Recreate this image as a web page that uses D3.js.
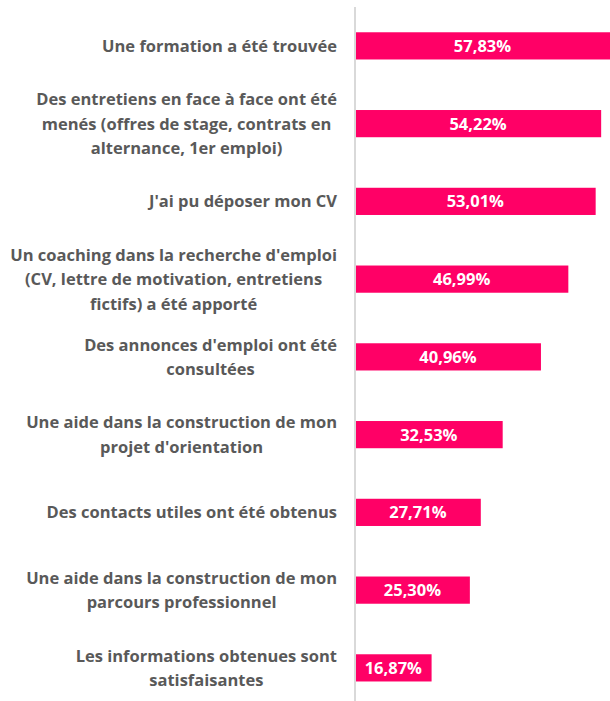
<!DOCTYPE html>
<html>
<head>
<meta charset="utf-8">
<script src="https://cdn.jsdelivr.net/npm/d3@7"></script>
<style>
  body { margin: 0; background: #fff; }
  svg text { font-family: "Open Sans", sans-serif; font-weight: bold; }
</style>
</head>
<body>
<script>
const categories = [
    ["Une formation a été trouvée"],
    ["Des entretiens en face à face ont été", "menés (offres de stage, contrats en", "alternance, 1er emploi)"],
    ["J'ai pu déposer mon CV"],
    ["Un coaching dans la recherche d'emploi", "(CV, lettre de motivation, entretiens", "fictifs) a été apporté"],
    ["Des annonces d'emploi ont été", "consultées"],
    ["Une aide dans la construction de mon", "projet d'orientation"],
    ["Des contacts utiles ont été obtenus"],
    ["Une aide dans la construction de mon", "parcours professionnel"],
    ["Les informations obtenues sont", "satisfaisantes"]
];
const values = [57.83, 54.22, 53.01, 46.99, 40.96, 32.53, 27.71, 25.30, 16.87];

const width = 610, height = 701;
const x0 = 355;
const labelRight = 337;

const svg = d3.select("body").append("svg")
    .attr("width", width)
    .attr("height", height);

const x = d3.scaleLinear().domain([0, 100]).range([x0, x0 + 454]);
const y = d3.scaleBand()
    .domain(d3.range(values.length))
    .range([7, 7 + 77.75 * values.length])
    .paddingInner(0.65)
    .paddingOuter(0.325);

const fmt = v => d3.format(".2f")(v).replace(".", ",") + "%";

svg.selectAll(".bar")
    .data(values)
    .enter().append("rect")
    .attr("class", "bar")
    .attr("x", x(0))
    .attr("y", (d, i) => y(i))
    .attr("width", d => x(d) - x(0))
    .attr("height", y.bandwidth())
    .attr("fill", "#ff0066");

svg.selectAll(".value")
    .data(values)
    .enter().append("text")
    .attr("class", "value")
    .attr("x", d => (x(0) + Math.min(x(d), width)) / 2)
    .attr("y", (d, i) => y(i) + y.bandwidth() / 2)
    .attr("dy", "0.36em")
    .attr("text-anchor", "middle")
    .attr("fill", "#fff")
    .style("font-size", "16.5px")
    .text(fmt);

// multi-line labels, centred, block right-aligned to the axis
const lineH = 24.5;
const labels = svg.selectAll(".label")
    .data(categories)
    .enter().append("text")
    .attr("class", "label")
    .attr("text-anchor", "middle")
    .attr("fill", "#595959")
    .style("font-size", "16.5px")
    .attr("y", (d, i) => y(i) + y.bandwidth() / 2 - (d.length - 1) * lineH / 2)
    .attr("dy", "0.36em");

labels.selectAll("tspan")
    .data(d => d)
    .enter().append("tspan")
    .attr("dy", (d, j) => j === 0 ? null : lineH)
    .text(d => d);

labels.each(function() {
    let maxW = 0;
    d3.select(this).selectAll("tspan").each(function() {
        maxW = Math.max(maxW, this.getComputedTextLength());
    });
    d3.select(this).selectAll("tspan").attr("x", labelRight - maxW / 2);
});

// vertical axis line
svg.append("line")
    .attr("x1", x0).attr("x2", x0)
    .attr("y1", 7).attr("y2", height)
    .attr("stroke", "#d9d9d9")
    .attr("stroke-width", 2);
</script>
</body>
</html>
